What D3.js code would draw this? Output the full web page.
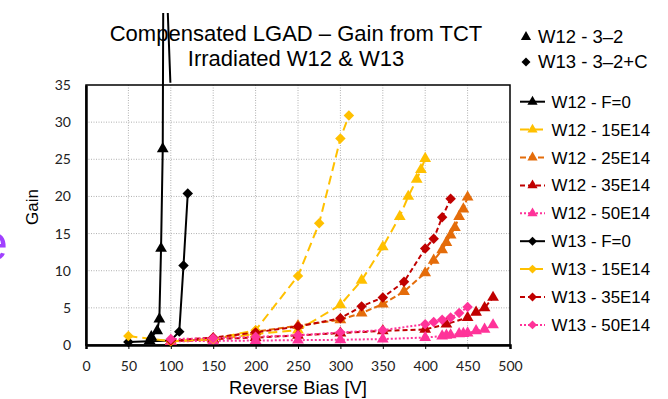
<!DOCTYPE html>
<html>
<head>
<meta charset="utf-8">
<script src="https://cdn.jsdelivr.net/npm/d3@7"></script>
<style>
  body { margin: 0; background: #fff; }
  svg { display: block; }
</style>
</head>
<body>
<div id="chart"></div>
<script>
// series data: [reverse bias V, gain]
const w12_F0 = [[75,0.6],[77,1.1],[84,1.9],[86.5,3.5],[88.5,13.0],[90.5,26.4],[91.5,60],[99.5,35.3]];
const w12_15E14 = [[100,0.5],[150,0.7],[200,1.5],[250,2.0],[300,5.4],[325,8.7],[350,13.2],[370,17.3],[380,20.0],[390,22.3],[395,23.6],[400,25.1]];
const w12_25E14 = [[100,0.5],[150,0.8],[200,1.8],[250,2.6],[300,3.4],[325,4.3],[350,5.5],[375,7.2],[400,9.7],[410,11.4],[420,12.8],[425,13.8],[430,14.8],[435,15.8],[440,17.3],[445,18.3],[450,19.9]];
const w12_35E14 = [[100,0.5],[150,0.8],[200,1.0],[250,1.3],[300,1.6],[350,1.9],[400,2.1],[425,2.8],[450,3.7],[460,4.4],[470,5.0],[480,6.4]];
const w12_50E14 = [[100,0.5],[150,0.55],[200,0.6],[250,0.65],[300,0.7],[350,0.8],[400,1.0],[420,1.2],[425,1.3],[430,1.35],[440,1.5],[445,1.55],[450,1.6],[460,1.9],[470,2.1],[480,2.7]];
const w13_F0 = [[50,0.4],[100,0.6],[110,1.8],[115,10.7],[120,20.4]];
const w13_15E14 = [[50,1.2],[100,0.5],[150,0.8],[200,2.0],[250,9.3],[275,16.4],[300,27.8],[310,30.9]];
const w13_35E14 = [[100,0.6],[150,1.0],[200,1.7],[250,2.5],[300,3.6],[325,5.2],[350,6.4],[375,8.5],[400,13.0],[410,14.3],[420,17.2],[430,19.7]];
const w13_50E14 = [[100,0.8],[150,0.9],[200,1.1],[250,1.3],[300,1.7],[350,2.0],[400,2.8],[410,3.1],[420,3.4],[430,3.7],[440,4.3],[450,5.1]];

const xTicks = [0,50,100,150,200,250,300,350,400,450,500];
const yTicks = [0,5,10,15,20,25,30,35];

const seriesList = [
  { name: "W12 - F=0",   data: w12_F0,    color: "#000000", dash: null,  shape: "tri" },
  { name: "W12 - 15E14", data: w12_15E14, color: "#FFC000", dash: "9,5", shape: "tri" },
  { name: "W12 - 25E14", data: w12_25E14, color: "#E46C0A", dash: "6,3", shape: "tri" },
  { name: "W12 - 35E14", data: w12_35E14, color: "#C00000", dash: "5,3", shape: "tri" },
  { name: "W12 - 50E14", data: w12_50E14, color: "#FF3399", dash: "2,2", shape: "tri" },
  { name: "W13 - F=0",   data: w13_F0,    color: "#000000", dash: null,  shape: "dia" },
  { name: "W13 - 15E14", data: w13_15E14, color: "#FFC000", dash: "9,5", shape: "dia" },
  { name: "W13 - 35E14", data: w13_35E14, color: "#C00000", dash: "5,3", shape: "dia" },
  { name: "W13 - 50E14", data: w13_50E14, color: "#FF3399", dash: "2,2", shape: "dia" }
];

const W = 668, H = 399;
const margin = { top: 85, right: 158, bottom: 54, left: 86 };
const width = W - margin.left - margin.right;
const height = H - margin.top - margin.bottom;

const svg = d3.select("#chart").append("svg").attr("width", W).attr("height", H);

// clip paths: lines only clipped by the chart area, markers by the plot area
const defs = svg.append("defs");
defs.append("clipPath").attr("id", "chartClip")
  .append("rect").attr("x", -margin.left).attr("y", 13 - margin.top).attr("width", W).attr("height", H);
defs.append("clipPath").attr("id", "plotClip")
  .append("rect").attr("x", -6).attr("y", -1).attr("width", width + 12).attr("height", height + 8);

const g = svg.append("g").attr("transform", `translate(${margin.left},${margin.top})`);

const x = d3.scaleLinear().domain([0, 500]).range([0, width]);
const y = d3.scaleLinear().domain([0, 35]).range([height, 0]);

// gridlines
g.append("g").selectAll("line").data(xTicks.slice(1, -1)).join("line")
  .attr("x1", d => x(d)).attr("x2", d => x(d)).attr("y1", 0).attr("y2", height)
  .attr("stroke", "#b0b0b0").attr("stroke-width", 1).attr("stroke-dasharray", "1,1.5");
g.append("g").selectAll("line").data(yTicks.slice(1, -1)).join("line")
  .attr("y1", d => y(d)).attr("y2", d => y(d)).attr("x1", 0).attr("x2", width)
  .attr("stroke", "#b0b0b0").attr("stroke-width", 1).attr("stroke-dasharray", "1,1.5");

// plot frame
g.append("rect").attr("x", 0).attr("y", 0).attr("width", width).attr("height", height)
  .attr("fill", "none").attr("stroke", "#000").attr("stroke-width", 1.5);

// axes
const xAxis = g.append("g").attr("transform", `translate(0,${height})`)
  .call(d3.axisBottom(x).tickValues(xTicks).tickSize(4).tickPadding(12));
xAxis.select(".domain").attr("stroke-width", 2.5);
const yAxis = g.append("g")
  .call(d3.axisLeft(y).tickValues(yTicks).tickSize(0).tickPadding(15));
yAxis.select(".domain").attr("stroke-width", 2.5);
[xAxis, yAxis].forEach(a => a.selectAll("text")
  .style("font-family", "Lato, 'Open Sans', sans-serif").style("font-size", "14px").attr("fill", "#222"));

// series lines
const line = d3.line().x(d => x(d[0])).y(d => y(d[1]));
const lines = g.append("g").attr("clip-path", "url(#chartClip)");
const marks = g.append("g").attr("clip-path", "url(#plotClip)");

function markerPath(shape, size) {
  return shape === "tri"
    ? d3.symbol(d3.symbolTriangle, size)()
    : d3.symbol(d3.symbolSquare, size)();
}

seriesList.forEach(s => {
  lines.append("path").datum(s.data)
    .attr("d", line).attr("fill", "none")
    .attr("stroke", s.color).attr("stroke-width", 2)
    .attr("stroke-dasharray", s.dash);
  marks.selectAll(null).data(s.data.filter(d => d[1] <= 35)).join("path")
    .attr("d", markerPath(s.shape, s.shape === "tri" ? 60 : 55))
    .attr("transform", d => `translate(${x(d[0])},${y(d[1])})` + (s.shape === "dia" ? " rotate(45)" : ""))
    .attr("fill", s.color);
});

// titles
const font = "'Liberation Sans', Arial, sans-serif";
svg.append("text").attr("x", 296).attr("y", 41).attr("text-anchor", "middle")
  .style("font-family", font).style("font-size", "22px").text("Compensated LGAD – Gain from TCT");
svg.append("text").attr("x", 296).attr("y", 66).attr("text-anchor", "middle")
  .style("font-family", font).style("font-size", "22px").text("Irradiated W12 & W13");

svg.append("text").attr("x", 298).attr("y", 394).attr("text-anchor", "middle")
  .style("font-family", font).style("font-size", "18.5px").text("Reverse Bias [V]");
svg.append("text").attr("transform", "translate(38,207) rotate(-90)").attr("text-anchor", "middle")
  .style("font-family", font).style("font-size", "17px").text("Gain");

// stray purple glyph at the left edge
svg.append("text").attr("x", -20).attr("y", 260)
  .style("font-family", font).style("font-size", "50px").attr("fill", "#A040FF").text("e");

// top legend (wafer symbols)
const waferLegend = svg.append("g");
[["tri", "W12 - 3–2", 37], ["dia", "W13 - 3–2+C", 62]].forEach(([shape, label, cy]) => {
  waferLegend.append("path").attr("d", markerPath(shape, shape === "tri" ? 45 : 40))
    .attr("transform", `translate(526,${cy})` + (shape === "dia" ? " rotate(45)" : ""));
  waferLegend.append("text").attr("x", 538).attr("y", cy + 6)
    .style("font-family", font).style("font-size", "18.5px").text(label);
});

// series legend
const legend = svg.append("g");
seriesList.forEach((s, i) => {
  const cy = 101.7 + i * 27.9;
  legend.append("line").attr("x1", 520).attr("x2", 545).attr("y1", cy).attr("y2", cy)
    .attr("stroke", s.color).attr("stroke-width", 2).attr("stroke-dasharray", s.dash);
  legend.append("path").attr("d", markerPath(s.shape, s.shape === "tri" ? 45 : 40))
    .attr("transform", `translate(532.5,${cy})` + (s.shape === "dia" ? " rotate(45)" : ""))
    .attr("fill", s.color);
  legend.append("text").attr("x", 551.5).attr("y", cy + 6)
    .style("font-family", font).style("font-size", "16.9px").text(s.name);
});
</script>
</body>
</html>
